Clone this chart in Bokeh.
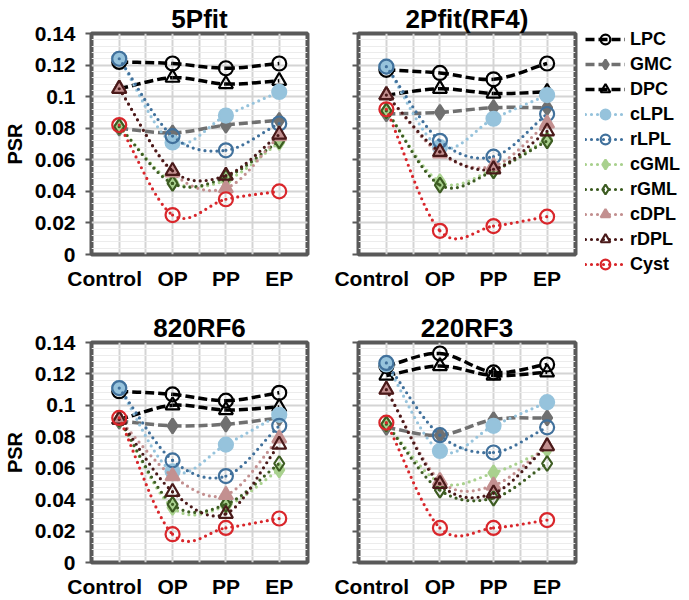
import numpy as np
from bokeh.plotting import figure
from bokeh.models import FixedTicker, Legend, LegendItem, Range1d
from bokeh.layouts import column, row
from bokeh.embed import file_html
from bokeh.resources import INLINE

stages = ["Control", "OP", "PP", "EP"]
series_names = ["LPC", "GMC", "DPC", "cLPL", "rLPL", "cGML", "rGML", "cDPL", "rDPL", "Cyst"]
panel_titles = ["5Pfit", "2Pfit(RF4)", "820RF6", "220RF3"]
ytick_values = [0, 0.02, 0.04, 0.06, 0.08, 0.1, 0.12, 0.14]
ytick_labels = ["0", "0.02", "0.04", "0.06", "0.08", "0.1", "0.12", "0.14"]

# PSR values per panel: series -> [Control, OP, PP, EP]
psr_5pfit = {
    "LPC":  [0.122, 0.121, 0.118, 0.121],
    "GMC":  [0.080, 0.077, 0.082, 0.085],
    "DPC":  [0.105, 0.112, 0.108, 0.110],
    "cLPL": [0.124, 0.071, 0.088, 0.103],
    "rLPL": [0.124, 0.075, 0.066, 0.083],
    "cGML": [0.081, 0.046, 0.047, 0.071],
    "rGML": [0.081, 0.045, 0.049, 0.072],
    "cDPL": [0.105, 0.052, 0.042, 0.075],
    "rDPL": [0.105, 0.053, 0.050, 0.076],
    "Cyst": [0.082, 0.025, 0.035, 0.040],
}
psr_2pfit = {
    "LPC":  [0.117, 0.115, 0.111, 0.121],
    "GMC":  [0.089, 0.090, 0.093, 0.093],
    "DPC":  [0.101, 0.105, 0.102, 0.103],
    "cLPL": [0.119, 0.068, 0.086, 0.101],
    "rLPL": [0.119, 0.072, 0.062, 0.089],
    "cGML": [0.091, 0.046, 0.054, 0.073],
    "rGML": [0.091, 0.044, 0.053, 0.072],
    "cDPL": [0.101, 0.064, 0.056, 0.083],
    "rDPL": [0.101, 0.065, 0.054, 0.078],
    "Cyst": [0.092, 0.015, 0.018, 0.024],
}
psr_820rf6 = {
    "LPC":  [0.109, 0.107, 0.103, 0.108],
    "GMC":  [0.090, 0.087, 0.088, 0.092],
    "DPC":  [0.091, 0.100, 0.097, 0.099],
    "cLPL": [0.111, 0.058, 0.075, 0.094],
    "rLPL": [0.111, 0.065, 0.055, 0.087],
    "cGML": [0.091, 0.035, 0.036, 0.059],
    "rGML": [0.091, 0.037, 0.037, 0.063],
    "cDPL": [0.091, 0.055, 0.043, 0.079],
    "rDPL": [0.091, 0.045, 0.031, 0.075],
    "Cyst": [0.092, 0.018, 0.022, 0.028],
}
psr_220rf3 = {
    "LPC":  [0.125, 0.133, 0.121, 0.126],
    "GMC":  [0.086, 0.081, 0.091, 0.092],
    "DPC":  [0.119, 0.125, 0.119, 0.121],
    "cLPL": [0.126, 0.071, 0.087, 0.102],
    "rLPL": [0.127, 0.081, 0.070, 0.086],
    "cGML": [0.088, 0.051, 0.057, 0.072],
    "rGML": [0.088, 0.046, 0.041, 0.063],
    "cDPL": [0.110, 0.052, 0.049, 0.074],
    "rDPL": [0.110, 0.050, 0.044, 0.074],
    "Cyst": [0.089, 0.022, 0.022, 0.027],
}
panel_data = [psr_5pfit, psr_2pfit, psr_820rf6, psr_220rf3]

FONT = "Liberation Sans"
FRAME = "#595959"
NBSP = "\u00a0"

# style per series: color, dash, marker, filled
styles = {
    "LPC":  ("#000000", "9 4", "circle", False),
    "GMC":  ("#707070", "9 4", "diamond", True),
    "DPC":  ("#000000", "9 4", "triangle", False),
    "cLPL": ("#96c3dc", "0 6", "circle", True),
    "rLPL": ("#41719c", "0 6", "circle", False),
    "cGML": ("#a9d18e", "0 6", "diamond", True),
    "rGML": ("#3d5c22", "0 6", "diamond", False),
    "cDPL": ("#c39090", "0 6", "triangle", True),
    "rDPL": ("#4a1a1a", "0 6", "triangle", False),
    "Cyst": ("#d9262b", "0 6", "circle", False),
}


def smooth_parts(xs, ys):
    xs = np.asarray(xs, float)
    ys = np.asarray(ys, float)
    n = len(xs)
    mx = np.empty(n)
    my = np.empty(n)
    for i in range(n):
        a = max(i - 1, 0)
        b = min(i + 1, n - 1)
        mx[i] = (xs[b] - xs[a]) / (b - a)
        my[i] = (ys[b] - ys[a]) / (b - a)
    return dict(x0=xs[:-1], y0=ys[:-1], x1=xs[1:], y1=ys[1:],
                cx0=xs[:-1] + mx[:-1] / 3, cy0=ys[:-1] + my[:-1] / 3,
                cx1=xs[1:] - mx[1:] / 3, cy1=ys[1:] - my[1:] / 3)


def line_style(name):
    color, dash, marker, filled = styles[name]
    dashed = dash != "0 6"
    return dict(line_color=color, line_width=3.5 if dashed else 3.2, line_dash=dash,
                line_cap="butt" if dashed else "round")


def marker_style(name):
    color, dash, marker, filled = styles[name]
    return dict(marker=marker, line_color=color, line_width=2.2,
                fill_color=color if filled else None)


def make_panel(idx, left, width, height, top, bottom, right, show_labels):
    p = figure(width=width, height=height, output_backend="svg", toolbar_location=None,
               min_border_left=left, min_border_right=right, min_border_top=top,
               min_border_bottom=bottom,
               x_range=Range1d(0.48, 4.53), y_range=Range1d(0, 0.14))
    p.title.text = panel_titles[idx]
    p.title.align = "center"
    p.title.text_font = FONT
    p.title.text_font_size = "26px"
    p.title.text_font_style = "bold"
    p.title.text_color = "#000000"
    p.title.standoff = 0
    p.background_fill_color = "white"
    p.border_fill_color = "white"
    p.outline_line_color = FRAME
    p.outline_line_width = 4

    xs = np.arange(1, len(stages) + 1)
    # first category label sits left of its tick, as in the original
    shown = [stages[0] + NBSP * 5] + stages[1:]
    p.xaxis.ticker = FixedTicker(ticks=list(xs))
    p.xaxis.major_label_overrides = {int(x): s for x, s in zip(xs, shown)}
    p.xaxis.major_label_text_font = FONT
    p.xaxis.major_label_text_font_size = "21px"
    p.xaxis.major_label_text_font_style = "bold"
    p.xaxis.major_label_text_color = "#000000"
    p.xaxis.major_label_standoff = 12
    p.xaxis.major_tick_out = 0
    p.xaxis.major_tick_in = 0
    p.xaxis.major_tick_line_color = None
    p.xaxis.minor_tick_line_color = None
    p.xaxis.axis_line_color = None

    minor = list(np.round(np.arange(0, 0.1401, 0.004), 4))
    p.yaxis.ticker = FixedTicker(ticks=ytick_values, minor_ticks=minor)
    p.yaxis.major_tick_out = 6
    p.yaxis.major_tick_in = 0
    p.yaxis.major_tick_line_color = FRAME
    p.yaxis.major_tick_line_width = 2
    p.yaxis.minor_tick_line_color = None
    p.yaxis.axis_line_color = None
    p.yaxis.major_label_standoff = 10
    if show_labels:
        p.yaxis.major_label_overrides = dict(zip(ytick_values, ytick_labels))
        p.yaxis.major_label_text_font = FONT
        p.yaxis.major_label_text_font_size = "21px"
        p.yaxis.major_label_text_font_style = "bold"
        p.yaxis.major_label_text_color = "#000000"
        p.yaxis.axis_label = "PSR"
        p.yaxis.axis_label_text_font = FONT
        p.yaxis.axis_label_text_font_size = "20px"
        p.yaxis.axis_label_text_font_style = "bold"
        p.yaxis.axis_label_text_color = "#000000"
        p.yaxis.axis_label_standoff = 6
    else:
        p.yaxis.major_label_overrides = {v: "" for v in ytick_values}

    p.ygrid.ticker = FixedTicker(ticks=ytick_values, minor_ticks=minor)
    p.ygrid.grid_line_color = "#d4d4d4"
    p.ygrid.grid_line_width = 2
    p.ygrid.minor_grid_line_color = "#ececec"
    p.ygrid.minor_grid_line_width = 1
    p.xgrid.ticker = FixedTicker(ticks=list(np.arange(1, len(stages) + 0.01, 0.5)))
    p.xgrid.grid_line_color = "#d4d4d4"
    p.xgrid.grid_line_width = 2

    data = panel_data[idx]
    for name in series_names:
        ys = data[name]
        p.bezier(x0="x0", y0="y0", x1="x1", y1="y1", cx0="cx0", cy0="cy0",
                 cx1="cx1", cy1="cy1", source=smooth_parts(xs, ys), **line_style(name))
        p.scatter(x=xs, y=ys, size=14 if styles[name][2] != "diamond" else 15,
                  **marker_style(name))
    return p


# page has no margin: rows 0-292 and 292-600; columns 0-322, 322-583, legend 583-689
f1 = make_panel(0, 90, 322, 292, 33, 34, 15, True)
f2 = make_panel(1, 36, 261, 292, 33, 34, 8, False)
f3 = make_panel(2, 90, 322, 308, 50, 35, 15, True)
f4 = make_panel(3, 36, 261, 308, 50, 35, 8, False)

# legend panel: its renderers hold the 2Pfit series but lie outside the panel's view,
# so only their legend samples show
fl = figure(width=106, height=292, output_backend="svg", toolbar_location=None,
            title=None, x_axis_type=None, y_axis_type=None, min_border=0,
            x_range=Range1d(10, 11), y_range=Range1d(10, 11))
fl.grid.visible = False
fl.outline_line_color = None
fl.background_fill_color = "white"
fl.border_fill_color = "white"
xs_all = np.arange(1, len(stages) + 1)
items = []
for name in series_names:
    lr = fl.line(x=xs_all, y=psr_2pfit[name], **line_style(name))
    mr = fl.scatter(x=xs_all, y=psr_2pfit[name], size=10, **marker_style(name))
    items.append(LegendItem(label=name, renderers=[lr, mr]))
legend = Legend(items=items, location=(2, 16), orientation="vertical",
                glyph_width=40, glyph_height=24, label_height=24, label_standoff=5,
                spacing=1, padding=0, margin=0,
                label_text_font=FONT, label_text_font_size="18px",
                label_text_font_style="bold", label_text_color="#000000",
                border_line_color=None, background_fill_alpha=0)
fl.add_layout(legend, "center")

layout = row(column(row(f1, f2), row(f3, f4)), column(fl))
open("out.html", "w").write(file_html(layout, INLINE))
